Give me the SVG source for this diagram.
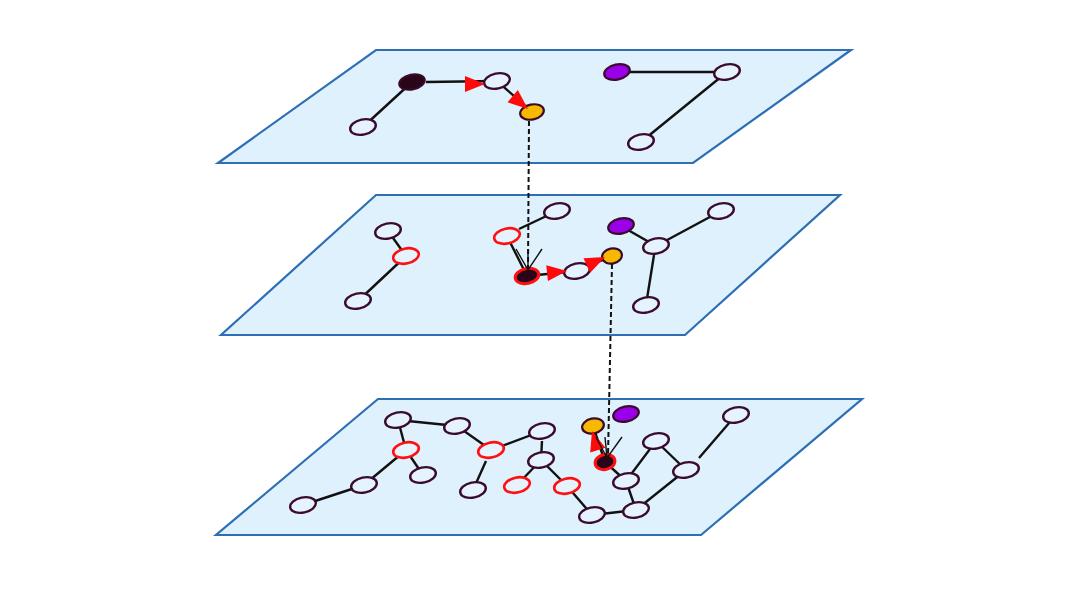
<svg xmlns="http://www.w3.org/2000/svg" width="1080" height="596" viewBox="0 0 1080 596">
<style>
.plane{fill:#dff1fd;stroke:#2e6fb4;stroke-width:2.2}
.e{stroke:#111;stroke-width:2.4;fill:none}
.n{fill:#e4f3fd;stroke:#3a0b2c;stroke-width:2.4}
.r{fill:#e4f3fd;stroke:#ff1010;stroke-width:2.6}
.d{fill:#2a0519;stroke:#3a0b2c;stroke-width:2}
.dr{fill:#2a0519;stroke:#ff1010;stroke-width:3}
.y{fill:#f7b900;stroke:#3a0b2c;stroke-width:2.2}
.p{fill:#9a00e8;stroke:#3a0b2c;stroke-width:2.2}
.dash{stroke:#111;stroke-width:2;stroke-dasharray:5 3;fill:none}
.open{stroke:#111;stroke-width:1.4;fill:none}
.ah{fill:#ff0a0a}
</style>
<defs>
<path id="tri" d="M0,0 L-20,-8 L-20,8 Z"/>
</defs>
<rect width="1080" height="596" fill="#fff"/>
<g id="planes">
<polygon id="plane1" class="plane" points="376,50 851,50 693,163 218,163"/>
<polygon id="plane2" class="plane" points="376,195 840,195 685,335 221,335"/>
<polygon id="plane3" class="plane" points="378,399 862,399 701,535 216,535"/>
</g>
<g id="connectors">
<line class="e" x1="412" y1="82" x2="363" y2="127"/>
<line class="e" x1="426" y1="82" x2="497" y2="81"/>
<line class="e" x1="497" y1="81" x2="532" y2="112"/>
<line class="e" x1="617" y1="72" x2="727" y2="72"/>
<line class="e" x1="727" y1="72" x2="641" y2="142"/>
<line class="e" x1="388" y1="231" x2="406" y2="256"/>
<line class="e" x1="406" y1="256" x2="358" y2="301"/>
<line class="e" x1="519" y1="229" x2="557" y2="211"/>
<line class="e" x1="507" y1="236" x2="527" y2="276"/>
<line class="e" x1="527" y1="276" x2="577" y2="271"/>
<line class="e" x1="577" y1="271" x2="612" y2="256"/>
<line class="e" x1="621" y1="226" x2="656" y2="246"/>
<line class="e" x1="656" y1="246" x2="721" y2="211"/>
<line class="e" x1="654" y1="255" x2="646" y2="305"/>
<line class="e" x1="303" y1="505" x2="364" y2="485"/>
<line class="e" x1="364" y1="485" x2="406" y2="450"/>
<line class="e" x1="406" y1="450" x2="398" y2="420"/>
<line class="e" x1="406" y1="450" x2="423" y2="475"/>
<line class="e" x1="398" y1="420" x2="457" y2="426"/>
<line class="e" x1="457" y1="426" x2="491" y2="450"/>
<line class="e" x1="491" y1="450" x2="542" y2="431"/>
<line class="e" x1="486" y1="461" x2="473" y2="490"/>
<line class="e" x1="542" y1="441" x2="541" y2="460"/>
<line class="e" x1="541" y1="460" x2="517" y2="485"/>
<line class="e" x1="541" y1="460" x2="567" y2="486"/>
<line class="e" x1="567" y1="486" x2="592" y2="515"/>
<line class="e" x1="592" y1="515" x2="636" y2="510"/>
<line class="e" x1="636" y1="510" x2="626" y2="481"/>
<line class="e" x1="626" y1="481" x2="605" y2="462"/>
<line class="e" x1="626" y1="481" x2="656" y2="441"/>
<line class="e" x1="656" y1="441" x2="686" y2="470"/>
<line class="e" x1="686" y1="470" x2="636" y2="510"/>
<line class="e" x1="699" y1="458" x2="736" y2="415"/>
<line class="e" x1="605" y1="462" x2="593" y2="426"/>
</g>
<g id="nodes">
<ellipse id="p1a" class="d" cx="412" cy="82" rx="13" ry="7.5" transform="rotate(-12 412 82)"/>
<ellipse id="p1b" class="n" cx="363" cy="127" rx="13" ry="7.5" transform="rotate(-12 363 127)"/>
<ellipse id="p1c" class="n" cx="497" cy="81" rx="13" ry="7.5" transform="rotate(-12 497 81)"/>
<ellipse id="p1d" class="y" cx="532" cy="112" rx="12" ry="7.5" transform="rotate(-12 532 112)"/>
<ellipse id="p1e" class="p" cx="617" cy="72" rx="13" ry="7.5" transform="rotate(-12 617 72)"/>
<ellipse id="p1f" class="n" cx="727" cy="72" rx="13" ry="7.5" transform="rotate(-12 727 72)"/>
<ellipse id="p1g" class="n" cx="641" cy="142" rx="13" ry="7.5" transform="rotate(-12 641 142)"/>

<ellipse id="p2a" class="n" cx="388" cy="231" rx="13" ry="7.5" transform="rotate(-12 388 231)"/>
<ellipse id="p2b" class="r" cx="406" cy="256" rx="13" ry="7.5" transform="rotate(-12 406 256)"/>
<ellipse id="p2c" class="n" cx="358" cy="301" rx="13" ry="7.5" transform="rotate(-12 358 301)"/>
<ellipse id="p2d" class="n" cx="557" cy="211" rx="13" ry="7.5" transform="rotate(-12 557 211)"/>
<ellipse id="p2e" class="r" cx="507" cy="236" rx="13" ry="7.5" transform="rotate(-12 507 236)"/>
<ellipse id="p2f" class="dr" cx="527" cy="276" rx="12" ry="7.5" transform="rotate(-12 527 276)"/>
<ellipse id="p2g" class="n" cx="577" cy="271" rx="13" ry="7.5" transform="rotate(-12 577 271)"/>
<ellipse id="p2h" class="y" cx="612" cy="256" rx="10" ry="7.5" transform="rotate(-12 612 256)"/>
<ellipse id="p2i" class="p" cx="621" cy="226" rx="13" ry="7.5" transform="rotate(-12 621 226)"/>
<ellipse id="p2j" class="n" cx="656" cy="246" rx="13" ry="7.5" transform="rotate(-12 656 246)"/>
<ellipse id="p2k" class="n" cx="721" cy="211" rx="13" ry="7.5" transform="rotate(-12 721 211)"/>
<ellipse id="p2l" class="n" cx="646" cy="305" rx="13" ry="7.5" transform="rotate(-12 646 305)"/>

<ellipse id="p3a" class="n" cx="398" cy="420" rx="13" ry="7.5" transform="rotate(-12 398 420)"/>
<ellipse id="p3b" class="n" cx="457" cy="426" rx="13" ry="7.5" transform="rotate(-12 457 426)"/>
<ellipse id="p3c" class="r" cx="406" cy="450" rx="13" ry="7.5" transform="rotate(-12 406 450)"/>
<ellipse id="p3d" class="n" cx="423" cy="475" rx="13" ry="7.5" transform="rotate(-12 423 475)"/>
<ellipse id="p3e" class="n" cx="364" cy="485" rx="13" ry="7.5" transform="rotate(-12 364 485)"/>
<ellipse id="p3f" class="n" cx="303" cy="505" rx="13" ry="7.5" transform="rotate(-12 303 505)"/>
<ellipse id="p3g" class="r" cx="491" cy="450" rx="13" ry="7.5" transform="rotate(-12 491 450)"/>
<ellipse id="p3h" class="n" cx="542" cy="431" rx="13" ry="7.5" transform="rotate(-12 542 431)"/>
<ellipse id="p3i" class="n" cx="541" cy="460" rx="13" ry="7.5" transform="rotate(-12 541 460)"/>
<ellipse id="p3j" class="n" cx="473" cy="490" rx="13" ry="7.5" transform="rotate(-12 473 490)"/>
<ellipse id="p3k" class="r" cx="517" cy="485" rx="13" ry="7.5" transform="rotate(-12 517 485)"/>
<ellipse id="p3l" class="r" cx="567" cy="486" rx="13" ry="7.5" transform="rotate(-12 567 486)"/>
<ellipse id="p3m" class="n" cx="592" cy="515" rx="13" ry="7.5" transform="rotate(-12 592 515)"/>
<ellipse id="p3n" class="n" cx="636" cy="510" rx="13" ry="7.5" transform="rotate(-12 636 510)"/>
<ellipse id="p3o" class="n" cx="626" cy="481" rx="13" ry="7.5" transform="rotate(-12 626 481)"/>
<ellipse id="p3p" class="n" cx="656" cy="441" rx="13" ry="7.5" transform="rotate(-12 656 441)"/>
<ellipse id="p3q" class="n" cx="686" cy="470" rx="13" ry="7.5" transform="rotate(-12 686 470)"/>
<ellipse id="p3r" class="n" cx="736" cy="415" rx="13" ry="7.5" transform="rotate(-12 736 415)"/>
<ellipse id="p3s" class="y" cx="593" cy="426" rx="11" ry="7.5" transform="rotate(-12 593 426)"/>
<ellipse id="p3t" class="p" cx="626" cy="414" rx="13" ry="7.5" transform="rotate(-12 626 414)"/>
<ellipse id="p3u" class="dr" cx="605" cy="462" rx="10" ry="7.5" transform="rotate(-12 605 462)"/>
</g>
<g id="arrows">
<use href="#tri" class="ah" transform="translate(485,84) rotate(0)"/>
<use href="#tri" class="ah" transform="translate(528,109) rotate(40)"/>
<use href="#tri" class="ah" transform="translate(567,271) rotate(-6)"/>
<use href="#tri" class="ah" transform="translate(605,257) rotate(-25)"/>
<use href="#tri" class="ah" transform="translate(592,431) rotate(-107)"/>
<line class="dash" x1="529" y1="121" x2="528" y2="268"/>
<path class="open" d="M516,249 L528,270 L542,249 M528,249 L528,270"/>
<line class="dash" x1="612" y1="264" x2="608" y2="456"/>
<path class="open" d="M596,437 L607,458 L622,437 M605,437 L607,458"/>
</g>
</svg>
